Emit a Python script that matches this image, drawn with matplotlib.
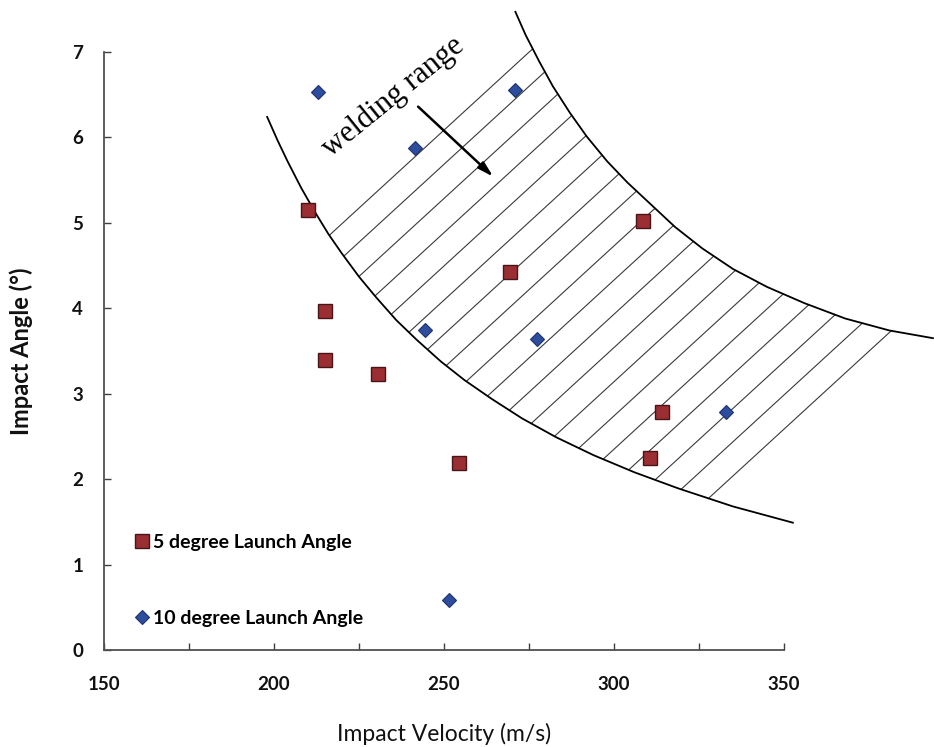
import numpy as np
import matplotlib
matplotlib.use("Agg")
import matplotlib.pyplot as plt
from matplotlib.patches import Polygon
from matplotlib.lines import Line2D

# ---- data ----
v5 = [210, 215, 215, 230.5, 254.5, 269.5, 308.5, 314, 310.5]
a5 = [5.15, 3.97, 3.39, 3.23, 2.19, 4.42, 5.02, 2.78, 2.25]
v10 = [213, 241.5, 271, 244.5, 277.5, 333, 251.5]
a10 = [6.53, 5.88, 6.56, 3.75, 3.64, 2.79, 0.58]

# boundary curves of the welding range
lower_v = [198, 201, 204, 208, 212, 216, 220, 225, 230, 236, 242, 249, 256, 264,
           273, 283, 294, 306, 319, 335, 352.6]
lower_a = [6.24, 5.97, 5.72, 5.41, 5.13, 4.87, 4.64, 4.37, 4.13, 3.86, 3.63, 3.38,
           3.16, 2.94, 2.71, 2.49, 2.28, 2.08, 1.89, 1.68, 1.49]
upper_v = [271, 274, 278, 282, 287, 292, 298, 304, 311, 318, 326, 335, 345, 356,
           368, 381, 393.8]
upper_a = [7.47, 7.20, 6.89, 6.60, 6.29, 6.01, 5.72, 5.47, 5.21, 4.95, 4.70, 4.46,
           4.25, 4.06, 3.88, 3.74, 3.65]

# hatch lines: a = slope*v + offset
hatch_slope = 0.0365
hatch_offsets = [-3.04, -3.44, -3.84, -4.24, -4.63, -5.03, -5.43, -5.82, -6.22,
                 -6.62, -7.02, -7.41, -7.81, -8.21, -8.60, -9.00, -9.40, -9.79, -10.19]

xticks = [150, 200, 250, 300, 350]
xminor = [175, 225, 275, 325]
yticks = [0, 1, 2, 3, 4, 5, 6, 7]

labels = ["5 degree Launch Angle", "10 degree Launch Angle"]

# ---- figure ----
fig = plt.figure(figsize=(9.34, 7.47), dpi=100)
ax = fig.add_axes([0.1113, 0.1299, 0.7281, 0.8005])
ax.set_xlim(150, 350)
ax.set_ylim(0, 7)

# hatched band
poly_pts = list(zip(lower_v, lower_a)) + list(zip(upper_v[::-1], upper_a[::-1]))
poly = Polygon(poly_pts, closed=True, facecolor="none", edgecolor="none")
ax.add_patch(poly)
poly.set_clip_on(False)
xx = np.array([150, 420])
for c in hatch_offsets:
    ln, = ax.plot(xx, hatch_slope * xx + c, color="#3a3a3a", lw=0.8, zorder=2)
    ln.set_clip_path(poly)
    ln.set_clip_box(None)

ax.plot(lower_v, lower_a, color="black", lw=1.3, clip_on=False, zorder=3,
        solid_joinstyle="round")
ax.plot(upper_v, upper_a, color="black", lw=1.3, clip_on=False, zorder=3,
        solid_joinstyle="round")

# points
ax.plot(v5, a5, ls="none", marker="s", ms=10.5, mfc="#9a2e33", mec="#4a1518",
        mew=1.0, zorder=5, clip_on=False)
ax.plot(v10, a10, ls="none", marker="D", ms=7.6, mfc="#2e4d9c", mec="#1d3272",
        mew=0.8, zorder=5, clip_on=False)

# annotation
ax.text(0.425, 0.925, "welding range", transform=ax.transAxes, rotation=39,
        ha="center", va="center", family="Liberation Serif", fontsize=22,
        rotation_mode="anchor")
ax.annotate("", xy=(264.5, 5.54), xytext=(242.4, 6.36),
            arrowprops=dict(arrowstyle="-|>,head_length=0.9,head_width=0.25",
                            color="black", lw=1.8, shrinkA=0, shrinkB=0))

# axes style
for s in ["top", "right"]:
    ax.spines[s].set_visible(False)
for s in ["left", "bottom"]:
    ax.spines[s].set_color("#505050")
    ax.spines[s].set_linewidth(1.3)
ax.set_xticks(xticks)
ax.set_xticks(xminor, minor=True)
ax.set_yticks(yticks)
ax.tick_params(axis="both", which="both", direction="in", length=5, width=1.0,
               color="#404040")
ax.tick_params(axis="x", which="major", pad=19)
ax.tick_params(axis="y", which="major", pad=15)
for lab in ax.get_xticklabels() + ax.get_yticklabels():
    lab.set_family("Lato")
    lab.set_fontweight("bold")
    lab.set_fontsize(13.5)
    lab.set_color("#111111")

ax.set_xlabel("Impact Velocity (m/s)", family="Lato", fontsize=16.5, labelpad=21,
              color="#111111")
ax.set_ylabel("Impact Angle (°)", family="Lato", fontsize=17, fontweight="bold",
              labelpad=28, color="#111111")

handles = [
    Line2D([], [], ls="none", marker="s", ms=9.5, mfc="#9a2e33", mec="#4a1518", mew=1.0),
    Line2D([], [], ls="none", marker="D", ms=6.8, mfc="#2e4d9c", mec="#1d3272", mew=0.8),
]
ax.legend(handles, labels, loc="upper left", bbox_to_anchor=(0.03, 0.207),
          frameon=False, prop={"family": "Lato", "weight": "bold", "size": 14},
          labelspacing=3.05, handletextpad=0.05, handlelength=1.0,
          borderaxespad=0)

fig.savefig("out.png", dpi=100)
